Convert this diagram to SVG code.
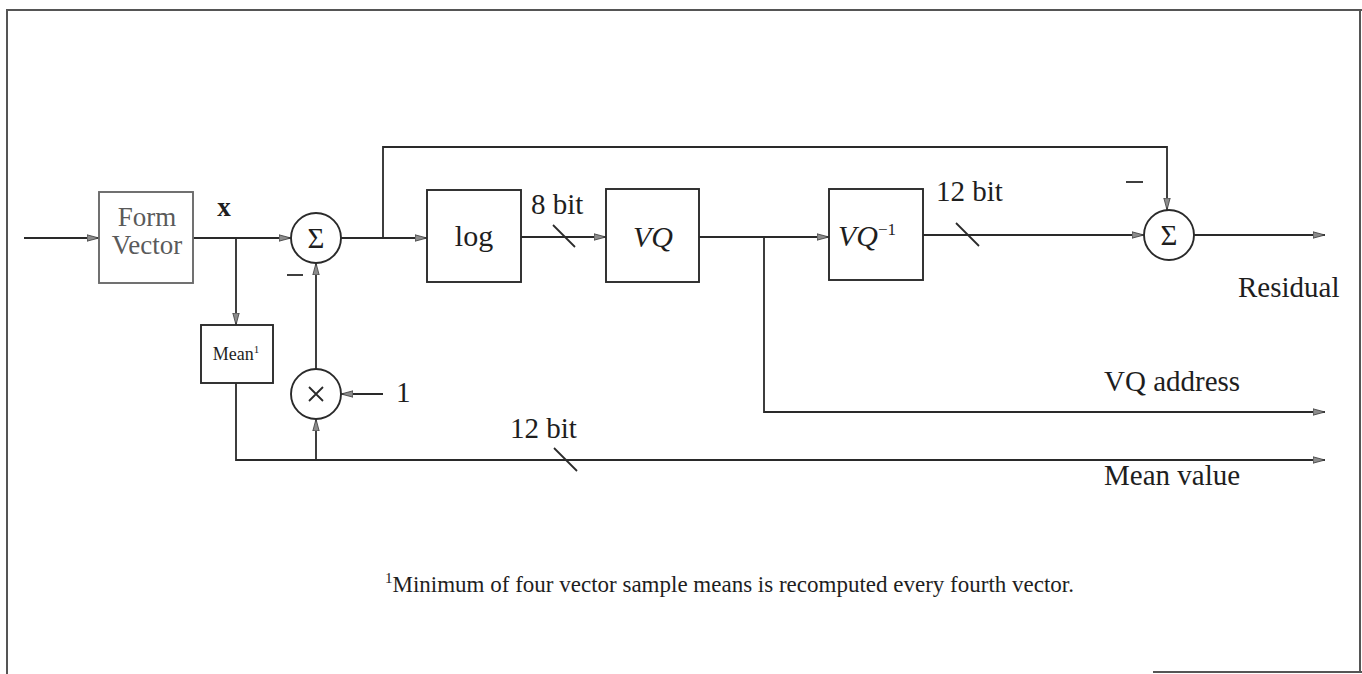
<svg xmlns="http://www.w3.org/2000/svg" width="1362" height="674" viewBox="0 0 1362 674">
  <style>
    .frame { stroke: #555; stroke-width: 2; fill: none; }
    .wire { stroke: #2a2a2a; stroke-width: 1.8; fill: none; }
    .box { stroke: #2a2a2a; stroke-width: 1.9; fill: #fff; }
    .gbox { stroke: #6a6a6a; stroke-width: 1.9; fill: #fff; }
    .node { stroke: #2a2a2a; stroke-width: 1.9; fill: #fff; }
    .lbl { font-family: "Liberation Serif", "DejaVu Serif", serif; fill: #1e1e1e; }
    .grey { fill: #5a5a5a; }
    .mid { text-anchor: middle; }
  </style>
  <defs>
    <marker id="arr" viewBox="0 0 12 8" refX="12" refY="4" markerWidth="12" markerHeight="8" markerUnits="userSpaceOnUse" orient="auto">
      <path d="M0,0.8 L12,4 L0,7.2 z" fill="#8c8c8c" stroke="#3a3a3a" stroke-width="0.8"/>
    </marker>
  </defs>

  <rect width="1362" height="674" fill="#fff"/>

  <!-- outer frame -->
  <g id="frame">
    <path class="frame" d="M7,674 L7,10 L1362,10"/>
    <path class="frame" d="M1360,10 L1360,672"/>
    <path class="frame" d="M1153,672 L1362,672"/>
  </g>

  <!-- connectors -->
  <g id="connectors">
    <path class="wire" d="M24,238 L99,238" marker-end="url(#arr)"/>
    <path class="wire" d="M193,238 L291,238" marker-end="url(#arr)"/>
    <path class="wire" d="M236,238 L236,325" marker-end="url(#arr)"/>
    <path class="wire" d="M236,383 L236,460 L1325,460" marker-end="url(#arr)"/>
    <path class="wire" d="M316,460 L316,419" marker-end="url(#arr)"/>
    <path class="wire" d="M316,369 L316,263" marker-end="url(#arr)"/>
    <path class="wire" d="M383,394 L341,394" marker-end="url(#arr)"/>
    <path class="wire" d="M341,238 L427,238" marker-end="url(#arr)"/>
    <path class="wire" d="M383,238 L383,147 L1167,147 L1167,210" marker-end="url(#arr)"/>
    <path class="wire" d="M521,237 L606,237" marker-end="url(#arr)"/>
    <path class="wire" d="M699,237 L829,237" marker-end="url(#arr)"/>
    <path class="wire" d="M764,237 L764,412 L1325,412" marker-end="url(#arr)"/>
    <path class="wire" d="M923,235 L1144,235" marker-end="url(#arr)"/>
    <path class="wire" d="M1194,235 L1325,235" marker-end="url(#arr)"/>
    <!-- bus width ticks -->
    <path class="wire" d="M553,225 L575,247"/>
    <path class="wire" d="M956,223 L979,246"/>
    <path class="wire" d="M554,448 L577,471"/>
    <!-- subtraction signs -->
    <path class="wire" d="M287,275 L303,275"/>
    <path class="wire" d="M1126,182 L1143,182"/>
  </g>

  <g id="form-vector">
    <rect class="gbox" x="99" y="192" width="94" height="91"/>
    <text class="lbl grey mid" x="147" y="226" font-size="27">Form</text>
    <text class="lbl grey mid" x="147" y="254" font-size="27">Vector</text>
  </g>
  <text class="lbl mid" x="224" y="216" font-size="27" font-weight="bold">x</text>

  <g id="mean">
    <rect class="box" x="201" y="325" width="72" height="58"/>
    <text class="lbl mid" x="236" y="360" font-size="18">Mean<tspan font-size="11" dy="-7">1</tspan></text>
  </g>

  <g id="sum1">
    <circle class="node" cx="316" cy="238" r="25"/>
    <text class="lbl mid" x="316" y="248" font-size="29">Σ</text>
  </g>

  <g id="mult">
    <circle class="node" cx="316" cy="394" r="25"/>
    <path class="wire" d="M309,387 L323,401 M323,387 L309,401" stroke-width="1.5"/>
  </g>
  <text class="lbl" x="396" y="402" font-size="29">1</text>

  <g id="log">
    <rect class="box" x="427" y="190" width="94" height="92"/>
    <text class="lbl mid" x="474" y="246" font-size="30">log</text>
  </g>
  <text class="lbl" x="531" y="214" font-size="29">8 bit</text>

  <g id="vq">
    <rect class="box" x="606" y="189" width="93" height="93"/>
    <text class="lbl mid" x="653" y="247" font-size="30" font-style="italic">VQ</text>
  </g>

  <g id="vq-inv">
    <rect class="box" x="829" y="189" width="94" height="91"/>
    <text class="lbl" x="838" y="246" font-size="30" font-style="italic">VQ<tspan font-style="normal" font-size="17" dy="-11">−1</tspan></text>
  </g>
  <text class="lbl" x="936" y="201" font-size="29">12 bit</text>

  <g id="sum2">
    <circle class="node" cx="1169" cy="235" r="25"/>
    <text class="lbl mid" x="1169" y="245" font-size="29">Σ</text>
  </g>

  <text class="lbl" x="1238" y="297" font-size="29">Residual</text>
  <text class="lbl" x="1104" y="391" font-size="29">VQ address</text>
  <text class="lbl" x="510" y="438" font-size="29">12 bit</text>
  <text class="lbl" x="1104" y="485" font-size="29">Mean value</text>

  <text class="lbl" x="385" y="592" font-size="23"><tspan font-size="15" dy="-9">1</tspan><tspan dy="9">Minimum of four vector sample means is recomputed every fourth vector.</tspan></text>
</svg>
